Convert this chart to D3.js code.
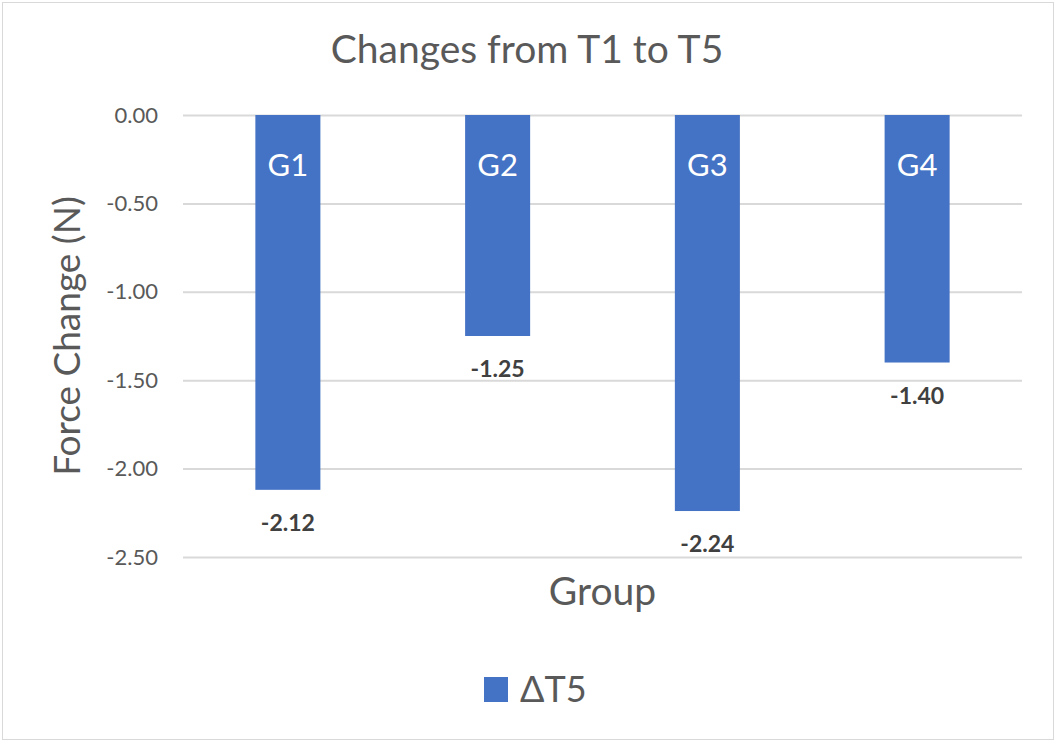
<!DOCTYPE html>
<html>
<head>
<meta charset="utf-8">
<script src="https://cdn.jsdelivr.net/npm/d3@7"></script>
<style>
    body { margin: 0; background: #fff; }
    text { font-family: Lato, "Open Sans", sans-serif; }
</style>
</head>
<body>
<div id="wrapper"></div>
<script>
const groups = ["G1", "G2", "G3", "G4"];
const deltaT5 = [-2.12, -1.25, -2.24, -1.40];
const yTicks = [0, -0.5, -1, -1.5, -2, -2.5];
const seriesName = "\u0394T5";

// Excel style: plain hyphen for negatives
const fmt = d => d3.format(".2f")(d).replace("\u2212", "-");

function build() {
    var dimension = {
        width: 1058,
        height: 741,
        margin: { top: 115, right: 36, bottom: 184, left: 183 }
    };
    dimension.boundedWidth = dimension.width - dimension.margin.left - dimension.margin.right;
    dimension.boundedHeight = dimension.height - dimension.margin.top - dimension.margin.bottom;

    const svg = d3.select("#wrapper")
        .append("svg")
        .attr("width", dimension.width)
        .attr("height", dimension.height);

    // outer chart border
    svg.append("rect")
        .attr("x", 2.5).attr("y", 2.5)
        .attr("width", 1051).attr("height", 737)
        .attr("fill", "#fff")
        .attr("stroke", "#d9d9d9");

    const x = d3.scaleBand()
        .domain(groups)
        .range([0, dimension.boundedWidth])
        .paddingInner(0.69)
        .paddingOuter(0.345);

    const y = d3.scaleLinear()
        .domain([0, -2.5])
        .range([0, dimension.boundedHeight]);

    const bounds = svg.append("g")
        .attr("transform", `translate(${dimension.margin.left},${dimension.margin.top})`);

    // gridlines + tick labels
    const yAxis = d3.axisLeft(y)
        .tickValues(yTicks)
        .tickFormat(fmt)
        .tickSize(-dimension.boundedWidth)
        .tickPadding(25);

    const gy = bounds.append("g").call(yAxis);
    gy.select(".domain").remove();
    gy.selectAll("line").attr("stroke", "#d9d9d9").attr("stroke-width", 2);
    gy.selectAll("text")
        .attr("fill", "#595959")
        .style("font-size", "22px");

    // bars
    bounds.selectAll("rect.bar")
        .data(groups)
        .enter()
        .append("rect")
        .attr("class", "bar")
        .attr("x", d => x(d))
        .attr("y", y(0))
        .attr("width", x.bandwidth())
        .attr("height", (d, i) => y(deltaT5[i]) - y(0))
        .attr("fill", "#4472c4");

    // category names inside bars
    bounds.selectAll("text.cat")
        .data(groups)
        .enter()
        .append("text")
        .attr("class", "cat")
        .attr("x", d => x(d) + x.bandwidth() / 2)
        .attr("y", y(0) + 61)
        .attr("text-anchor", "middle")
        .attr("fill", "#fff")
        .style("font-size", "31px")
        .text(d => d);

    // value labels
    bounds.selectAll("text.val")
        .data(groups)
        .enter()
        .append("text")
        .attr("class", "val")
        .attr("x", d => x(d) + x.bandwidth() / 2)
        .attr("y", (d, i) => y(deltaT5[i]) + 41)
        .attr("text-anchor", "middle")
        .attr("fill", "#404040")
        .style("font-size", "23px")
        .style("font-weight", "bold")
        .text((d, i) => fmt(deltaT5[i]));

    // title
    svg.append("text")
        .attr("x", 527)
        .attr("y", 63)
        .attr("text-anchor", "middle")
        .attr("fill", "#595959")
        .style("font-size", "39px")
        .text("Changes from T1 to T5");

    // axis titles
    svg.append("text")
        .attr("transform", `translate(80,${dimension.margin.top + dimension.boundedHeight / 2}) rotate(-90)`)
        .attr("text-anchor", "middle")
        .attr("fill", "#595959")
        .style("font-size", "37px")
        .text("Force Change (N)");

    svg.append("text")
        .attr("x", dimension.margin.left + dimension.boundedWidth / 2)
        .attr("y", 605)
        .attr("text-anchor", "middle")
        .attr("fill", "#595959")
        .style("font-size", "39px")
        .text("Group");

    // legend
    const legend = svg.append("g").attr("transform", "translate(484,677)");
    legend.append("rect")
        .attr("width", 24).attr("height", 25)
        .attr("fill", "#4472c4");
    legend.append("text")
        .attr("x", 36)
        .attr("y", 25)
        .attr("fill", "#595959")
        .style("font-size", "36px")
        .text(seriesName);
}
build();
</script>
</body>
</html>
